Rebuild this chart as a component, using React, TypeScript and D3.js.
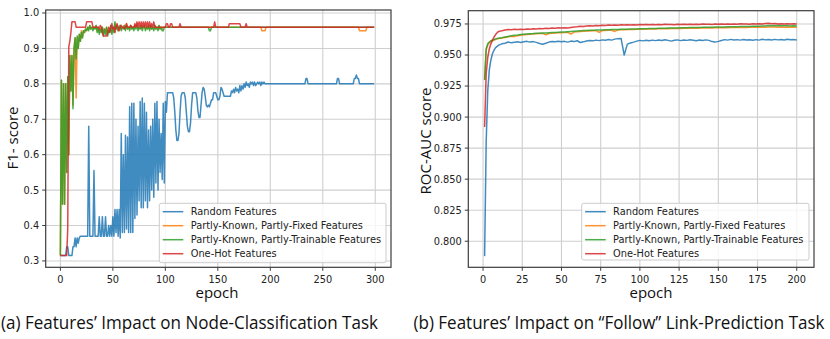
import React from 'react';
import * as d3 from 'd3';

const rep = (v: number, n: number): number[] => Array(n).fill(v);

const seriesNames = [
  'Random Features',
  'Partly-Known, Partly-Fixed Features',
  'Partly-Known, Partly-Trainable Features',
  'One-Hot Features',
];
const seriesColors = ['#1f77b4', '#ff7f0e', '#2ca02c', '#d62728'];

// (a) node classification, F1 per epoch (epochs 0..299)
const f1Epochs = d3.range(300);

const f1Random = [
  ...rep(0.315, 6),
  0.34, 0.34, 0.315, 0.315, 0.315, 0.315, 0.34, 0.34, 0.365, 0.34, 0.365, 0.35, 0.365,
  ...rep(0.37, 8),
  0.68, 0.37, 0.37, 0.37, 0.37, 0.555, 0.37, 0.37, 0.37, 0.37,
  0.425, 0.37, 0.37, 0.425, 0.37, 0.37, 0.425, 0.37, 0.37, 0.40,
  0.37, 0.40, 0.37, 0.425, 0.37, 0.445, 0.38, 0.445, 0.37, 0.445,
  0.365,
  0.66, 0.38, 0.60, 0.38, 0.655, 0.39, 0.65, 0.38, 0.735, 0.38,
  0.745, 0.38, 0.745, 0.42, 0.70, 0.43, 0.68, 0.47, 0.75, 0.45,
  0.76, 0.45, 0.745, 0.47, 0.72, 0.45, 0.67, 0.47, 0.68, 0.50,
  0.70, 0.48, 0.745, 0.52, 0.75, 0.50, 0.70, 0.55, 0.66, 0.53,
  0.745, 0.52, 0.75,
  0.72, 0.775, 0.775, 0.775, 0.775, 0.775, 0.775, 0.76, 0.72, 0.67,
  0.64, 0.64, 0.66, 0.72, 0.765, 0.775, 0.775, 0.775, 0.76, 0.72,
  0.68, 0.665, 0.665, 0.69, 0.74, 0.775, 0.775, 0.775, 0.775, 0.76,
  0.725, 0.705, 0.705, 0.74, 0.775, 0.79, 0.785, 0.765, 0.74, 0.735,
  0.74, 0.735, 0.745, 0.755, 0.755, 0.775, 0.775, 0.775, 0.765, 0.755,
  0.755, 0.765, 0.79, 0.785, 0.775, 0.765, 0.765, 0.765, 0.765, 0.765,
  0.765, 0.765, 0.78, 0.775, 0.785, 0.775, 0.79, 0.78, 0.785, 0.775,
  0.795, 0.78, 0.795, 0.785, 0.80, 0.79, 0.805, 0.795, 0.80, 0.79,
  0.805, 0.80, 0.805, 0.795, 0.805, 0.795, 0.80, 0.805, 0.80, 0.805,
  0.795, 0.805, 0.80, 0.805, 0.80,
  ...rep(0.8, 38), 0.815, 0.815, ...rep(0.8, 28), 0.815, 0.815,
  ...rep(0.8, 14), 0.815, 0.815, 0.825, 0.815, 0.815, ...rep(0.8, 15),
];

const f1Fixed = [
  0.315, 0.81, 0.46, 0.80, 0.46, 0.80, 0.55, 0.82, 0.60, 0.88,
  0.78, 0.88, 0.74, 0.90, 0.93, 0.76, 0.93, 0.90, 0.94, 0.92,
  0.95, 0.93, 0.95, 0.945, 0.955,
  0.95, 0.96, 0.955, 0.965, 0.955, 0.96, 0.955, 0.96, 0.955, 0.965,
  0.95, 0.96, 0.945, 0.955, 0.95, 0.96, 0.94, 0.955, 0.945, 0.96,
  0.94, 0.95, 0.95, 0.965, 0.945, 0.96, 0.95, 0.97,
  0.955, 0.965, 0.95, 0.96, 0.965, 0.955, 0.96, 0.96, 0.965, 0.955,
  0.97, 0.955, 0.96, 0.955, 0.965, 0.955, 0.96, 0.955, 0.965, 0.96,
  0.97, 0.955, 0.96, 0.955, 0.965, 0.955, 0.96, 0.965, 0.955, 0.96,
  0.955, 0.965, 0.955, 0.965, 0.955, 0.96, 0.955, 0.965, 0.955, 0.96,
  0.955, 0.965, 0.955, 0.96, 0.955, 0.96,
  ...rep(0.96, 93), ...rep(0.95, 4), ...rep(0.96, 89), ...rep(0.95, 7), ...rep(0.96, 8),
];

const f1Trainable = [
  0.315, 0.81, 0.46, 0.80, 0.46, 0.80, 0.55, 0.82, 0.60, 0.88,
  0.78, 0.88, 0.73, 0.90, 0.93, 0.87, 0.935, 0.90, 0.94, 0.92,
  0.945, 0.93, 0.95, 0.945, 0.955,
  0.95, 0.96, 0.95, 0.965, 0.955, 0.96, 0.95, 0.96, 0.955, 0.965,
  0.945, 0.96, 0.94, 0.955, 0.945, 0.96, 0.935, 0.955, 0.94, 0.96,
  0.935, 0.95, 0.945, 0.965, 0.94, 0.96, 0.945, 0.975,
  0.955, 0.965, 0.95, 0.96, 0.965, 0.95, 0.96, 0.955, 0.965, 0.95,
  0.965, 0.955, 0.96, 0.95, 0.965, 0.955, 0.96, 0.95, 0.965, 0.955,
  0.965, 0.95, 0.96, 0.955, 0.965, 0.95, 0.96, 0.965, 0.95, 0.96,
  0.955, 0.965, 0.95, 0.965, 0.955, 0.96, 0.95, 0.965, 0.955, 0.96,
  0.95, 0.965, 0.955, 0.96, 0.95, 0.95,
  ...rep(0.96, 43), 0.95, 0.95, ...rep(0.96, 156),
];

const f1OneHot = [
  ...rep(0.315, 7), 0.39, 0.905, 0.92, 0.945, 0.975, 0.975, 0.975, 0.975,
  ...rep(0.96, 10), ...rep(0.975, 6),
  0.96, 0.96, 0.96, 0.96, 0.96, 0.96, 0.955, 0.965, 0.96, 0.945,
  0.935, 0.935, 0.935, 0.935, 0.945, 0.96, 0.945, 0.96, 0.97, 0.955,
  0.96, 0.945, 0.96, 0.97, 0.96,
  0.95, 0.96, 0.965, 0.96, 0.96, 0.955, 0.96, 0.97, 0.96, 0.96,
  0.96, 0.965, 0.96, 0.96, 0.96,
  0.97, 0.96, 0.975, 0.96, 0.975, 0.96, 0.975, 0.96, 0.975, 0.96,
  0.975, 0.96, 0.975, 0.96, 0.975, 0.96, 0.97, 0.96, 0.975, 0.96,
  ...rep(0.96, 10), 0.97, 0.97, 0.96, 0.96, 0.97, 0.97, ...rep(0.96, 7), 0.97,
  ...rep(0.96, 32), 0.975, ...rep(0.96, 13), ...rep(0.97, 11), ...rep(0.96, 5), 0.97,
  ...rep(0.96, 122),
];

// (b) "Follow" link prediction, ROC-AUC (epochs 1..10, then every 2nd)
const rocEpochs = [...d3.range(1, 11), ...d3.range(12, 201, 2)];

const rocRandom = [
  0.788, 0.880, 0.921, 0.938, 0.946, 0.951, 0.954, 0.956, 0.957, 0.958,
  0.959, 0.9595, 0.9605, 0.9598, 0.9603, 0.9607, 0.9601, 0.9606, 0.961, 0.9604,
  0.9608, 0.9602, 0.9593, 0.9587, 0.9595, 0.9604, 0.9609, 0.9606, 0.9611, 0.9607,
  0.961, 0.9604, 0.9612, 0.9608, 0.9615, 0.9601, 0.9606, 0.9613, 0.9617, 0.9614,
  0.962, 0.9616, 0.9622, 0.9619, 0.9625, 0.962, 0.9628, 0.9632, 0.9634, 0.950,
  0.9588, 0.9597, 0.9604, 0.9612, 0.9618, 0.9614, 0.9619, 0.9615, 0.962, 0.9616,
  0.9621, 0.9617, 0.9623, 0.9618, 0.9612, 0.9619, 0.9622, 0.9616, 0.9621, 0.9618,
  0.9623, 0.9619, 0.9615, 0.9621, 0.9617, 0.9622, 0.9618, 0.9608, 0.9604, 0.961,
  0.9617, 0.9624, 0.962, 0.9626, 0.9621, 0.9624, 0.962, 0.9625, 0.9621, 0.9623,
  0.9619, 0.9624, 0.962, 0.9627, 0.9622, 0.9625, 0.9621, 0.9626, 0.9622, 0.9625,
  0.9621, 0.9627, 0.9623, 0.9625, 0.9621,
];

const rocFixed = [
  0.930, 0.954, 0.958, 0.960, 0.961, 0.9615, 0.962, 0.9625, 0.963, 0.9633,
  0.9637, 0.9642, 0.9647, 0.9652, 0.9648, 0.9656, 0.966, 0.9663, 0.9666, 0.9668,
  0.967, 0.9671, 0.9673, 0.9674, 0.9662, 0.9673, 0.9676, 0.9677, 0.9679, 0.968,
  0.9681, 0.9683, 0.9668, 0.9685, 0.9687, 0.969, 0.9691, 0.9693, 0.9694, 0.9695,
  0.9696, 0.9682, 0.9697, 0.9698, 0.9699, 0.97, 0.969, 0.9702, 0.9703, 0.9704,
  0.9705, 0.9705, 0.9706, 0.9707, 0.9707, 0.9708, 0.9709, 0.9709, 0.971, 0.971,
  0.9711, 0.9711, 0.9712, 0.9712, 0.9713, 0.9713, 0.9714, 0.9714, 0.9715, 0.9715,
  0.9716, 0.9716, 0.9716, 0.9717, 0.9717, 0.9718, 0.9718, 0.9718, 0.9719, 0.9719,
  0.972, 0.972, 0.972, 0.9721, 0.9721, 0.9721, 0.9722, 0.9722, 0.9722, 0.9723,
  0.9723, 0.9723, 0.9724, 0.9724, 0.9724, 0.9725, 0.9725, 0.9725, 0.9724, 0.9725,
  0.9724, 0.9725, 0.9724, 0.9723, 0.9723,
];

const rocTrainable = [
  0.930, 0.955, 0.959, 0.9605, 0.9615, 0.962, 0.9625, 0.963, 0.9633, 0.9636,
  0.964, 0.9645, 0.965, 0.9655, 0.966, 0.9662, 0.9665, 0.9668, 0.967, 0.9672,
  0.9673, 0.9675, 0.9676, 0.9677, 0.9678, 0.968, 0.9681, 0.9682, 0.9684, 0.9685,
  0.9686, 0.9688, 0.969, 0.9692, 0.9694, 0.9696, 0.9697, 0.9698, 0.9699, 0.97,
  0.9701, 0.9702, 0.9702, 0.9703, 0.9704, 0.9705, 0.9705, 0.9706, 0.9707, 0.9707,
  0.9708, 0.9709, 0.971, 0.971, 0.9711, 0.9712, 0.9712, 0.9713, 0.9714, 0.9714,
  0.9715, 0.9715, 0.9716, 0.9717, 0.9717, 0.9718, 0.9718, 0.9719, 0.972, 0.972,
  0.9721, 0.9721, 0.9722, 0.9722, 0.9723, 0.9723, 0.9724, 0.9724, 0.9725, 0.9725,
  0.9726, 0.9726, 0.9727, 0.9727, 0.9728, 0.9728, 0.9729, 0.9729, 0.973, 0.973,
  0.9731, 0.9731, 0.9732, 0.9733, 0.9734, 0.9737, 0.9736, 0.9735, 0.9737, 0.9736,
  0.9735, 0.9736, 0.9734, 0.9735, 0.9734,
];

const rocOneHot = [
  0.892, 0.935, 0.948, 0.955, 0.959, 0.962, 0.9645, 0.9665, 0.968, 0.969,
  0.9695, 0.9702, 0.9705, 0.9703, 0.9707, 0.9705, 0.9708, 0.9706, 0.971, 0.9708,
  0.9712, 0.971, 0.9714, 0.9712, 0.9716, 0.9714, 0.9718, 0.9715, 0.9719, 0.9717,
  0.972, 0.9718, 0.9722, 0.9726, 0.9728, 0.9732, 0.973, 0.9734, 0.9736, 0.9734,
  0.9738, 0.9736, 0.974, 0.9738, 0.9741, 0.9739, 0.9742, 0.974, 0.9743, 0.9741,
  0.9743, 0.9741, 0.9744, 0.9742, 0.9745, 0.9743, 0.9746, 0.9744, 0.9745, 0.9743,
  0.9746, 0.9744, 0.9747, 0.9745, 0.9746, 0.9744, 0.9747, 0.9745, 0.9748, 0.9746,
  0.9747, 0.9745, 0.9748, 0.9746, 0.9749, 0.9747, 0.9748, 0.9746, 0.9749, 0.9747,
  0.975, 0.9748, 0.9749, 0.9747, 0.975, 0.9748, 0.9751, 0.9749, 0.975, 0.9748,
  0.9751, 0.9749, 0.9752, 0.975, 0.9753, 0.9755, 0.9751, 0.9753, 0.975, 0.9752,
  0.9749, 0.9752, 0.975, 0.9751, 0.9749,
];

const xTicksA = [0, 50, 100, 150, 200, 250, 300];
const yTicksA = [0.3, 0.4, 0.5, 0.6, 0.7, 0.8, 0.9, 1.0];
const xTicksB = [0, 25, 50, 75, 100, 125, 150, 175, 200];
const yTicksB = [0.8, 0.825, 0.85, 0.875, 0.9, 0.925, 0.95, 0.975];

const tickFont = "'DejaVu Sans', sans-serif";
const labelFont = "'Open Sans', sans-serif";
const smallSize = 9.8;

interface PanelProps {
  left: number; right: number; top: number; bottom: number;
  xDomain: number[]; yDomain: number[];
  xTicks: number[]; yTicks: number[]; yFormat: (v: number) => string;
  epochs: number[]; series: number[][];
  yLabel: string; yLabelX: number; yLabelY: number; xLabelX: number;
  legend: { x: number; y: number; w: number; h: number };
}

function Panel(p: PanelProps) {
  const x = d3.scaleLinear().domain(p.xDomain).range([p.left, p.right]);
  const y = d3.scaleLinear().domain(p.yDomain).range([p.bottom, p.top]);
  const line = d3.line<number>().x((_, i) => x(p.epochs[i])).y(d => y(d));
  const lg = p.legend;
  return (
    <g>
      {p.xTicks.map(t => (
        <line key={'gx' + t} x1={x(t)} x2={x(t)} y1={p.top} y2={p.bottom} stroke="#cfcfcf" strokeWidth={1.1} />
      ))}
      {p.yTicks.map(t => (
        <line key={'gy' + t} x1={p.left} x2={p.right} y1={y(t)} y2={y(t)} stroke="#cfcfcf" strokeWidth={1.1} />
      ))}
      {p.series.map((vals, i) => (
        <path key={'s' + i} d={line(vals) || ''} fill="none" stroke={seriesColors[i]}
          strokeWidth={1.5} strokeLinejoin="round" opacity={0.85} />
      ))}
      <rect x={p.left} y={p.top} width={p.right - p.left} height={p.bottom - p.top}
        fill="none" stroke="#3c3c3c" strokeWidth={1.2} />
      {p.xTicks.map(t => (
        <g key={'tx' + t}>
          <line x1={x(t)} x2={x(t)} y1={p.bottom} y2={p.bottom + 3.5} stroke="#3c3c3c" />
          <text x={x(t)} y={283} textAnchor="middle" fontFamily={tickFont} fontSize={smallSize} fill="#222">{t}</text>
        </g>
      ))}
      {p.yTicks.map(t => (
        <g key={'ty' + t}>
          <line x1={p.left - 3.5} x2={p.left} y1={y(t)} y2={y(t)} stroke="#3c3c3c" />
          <text x={p.left - 6.5} y={y(t)} dy="0.35em" textAnchor="end" fontFamily={tickFont} fontSize={smallSize} fill="#222">
            {p.yFormat(t)}
          </text>
        </g>
      ))}
      <text x={p.xLabelX} y={298} textAnchor="middle" fontFamily={labelFont} fontSize={15} fill="#111">epoch</text>
      <text transform={`translate(${p.yLabelX},${p.yLabelY}) rotate(-90)`} textAnchor="middle"
        fontFamily={labelFont} fontSize={15} fill="#111">{p.yLabel}</text>
      <rect x={lg.x} y={lg.y} width={lg.w} height={lg.h} rx={2} fill="#fff" fillOpacity={0.8} stroke="#cccccc" />
      {seriesNames.map((name, i) => {
        const ry = lg.y + 8.4 + i * 14;
        return (
          <g key={'lg' + i}>
            <line x1={lg.x + 3.4} x2={lg.x + 24} y1={ry} y2={ry} stroke={seriesColors[i]} strokeWidth={1.5} opacity={0.85} />
            <text x={lg.x + 31.4} y={ry} dy="0.35em" fontFamily={tickFont} fontSize={smallSize} fill="#222">{name}</text>
          </g>
        );
      })}
    </g>
  );
}

export default function App() {
  return (
    <svg width={830} height={339} viewBox="0 0 830 339"
      style={{ position: 'absolute', left: 0, top: 0, background: '#fff' }}>
      <Panel
        left={45.7} right={391} top={10} bottom={267.3}
        xDomain={[-14, 315]} yDomain={[0.282, 1.0085]}
        xTicks={xTicksA} yTicks={yTicksA} yFormat={d3.format('.1f')}
        epochs={f1Epochs} series={[f1Random, f1Fixed, f1Trainable, f1OneHot]}
        yLabel="F1- score" yLabelX={18} yLabelY={138} xLabelX={217}
        legend={{ x: 159.3, y: 203.3, w: 226.7, h: 59.4 }}
      />
      <Panel
        left={468.3} right={814} top={10.7} bottom={267.3}
        xDomain={[-9.4, 211]} yDomain={[0.779, 0.9857]}
        xTicks={xTicksB} yTicks={yTicksB} yFormat={d3.format('.3f')}
        epochs={rocEpochs} series={[rocRandom, rocFixed, rocTrainable, rocOneHot]}
        yLabel="ROC-AUC score" yLabelX={430.5} yLabelY={141} xLabelX={651}
        legend={{ x: 581.7, y: 203.3, w: 227.3, h: 56.7 }}
      />
      <text x={1} y={328.5} fontFamily={labelFont} fontSize={18} fill="#111"
        textLength={377} lengthAdjust="spacingAndGlyphs">
        (a) Features’ Impact on Node-Classification Task
      </text>
      <text x={413.5} y={328.5} fontFamily={labelFont} fontSize={18} fill="#111"
        textLength={411} lengthAdjust="spacingAndGlyphs">
        (b) Features’ Impact on “Follow” Link-Prediction Task
      </text>
    </svg>
  );
}
